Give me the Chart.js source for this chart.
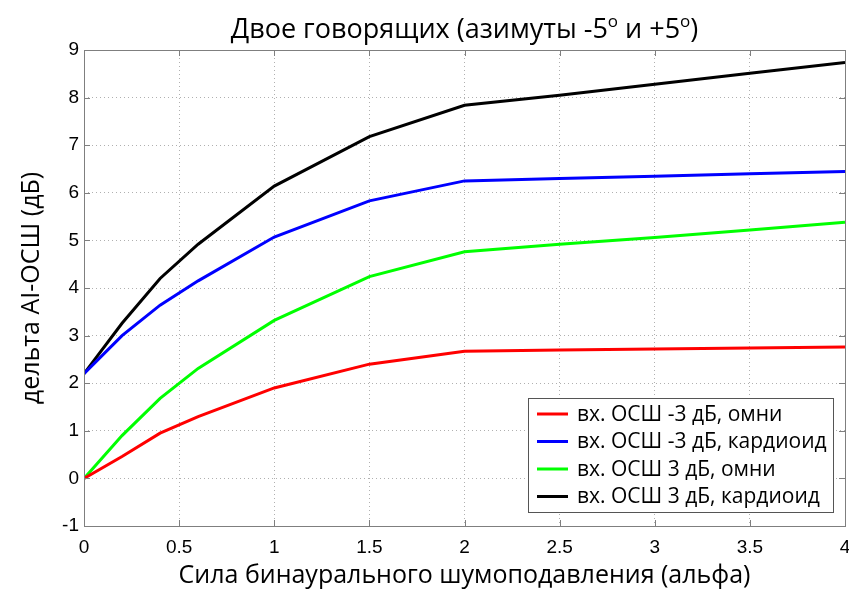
<!DOCTYPE html>
<html>
<head>
<meta charset="utf-8">
<script src="https://cdn.jsdelivr.net/npm/chart.js@4.4.1/dist/chart.umd.min.js"></script>
<style>
  html, body { margin: 0; padding: 0; background: #fff; }
  #wrap { width: 849px; height: 591px; position: relative; }
</style>
</head>
<body>
<div id="wrap"><canvas id="c"></canvas></div>
<script>
// данные с графика
const alpha = [0, 0.2, 0.4, 0.6, 1, 1.5, 2, 2.5, 3, 3.5, 4];
const redOmni   = [0, 0.46, 0.95, 1.30, 1.90, 2.40, 2.67, 2.70, 2.72, 2.74, 2.76];
const blueCard  = [2.2, 3.0, 3.64, 4.15, 5.07, 5.83, 6.25, 6.30, 6.35, 6.40, 6.45];
const greenOmni = [0, 0.90, 1.68, 2.31, 3.32, 4.24, 4.76, 4.92, 5.06, 5.22, 5.38];
const blackCard = [2.2, 3.26, 4.2, 4.92, 6.14, 7.18, 7.84, 8.05, 8.28, 8.51, 8.74];
const labels = ['вх. ОСШ -3 дБ, омни', 'вх. ОСШ -3 дБ, кардиоид', 'вх. ОСШ 3 дБ, омни', 'вх. ОСШ 3 дБ, кардиоид'];
const xTicks = [0, 0.5, 1, 1.5, 2, 2.5, 3, 3.5, 4];
// заголовок: [текст, верхний индекс?]
const titleParts = [['Двое говорящих (азимуты -5', false], ['o', true], [' и +5', false], ['o', true], [')', false]];

const COLORS = ['#ff0000', '#0000ff', '#00ff00', '#000000'];
const series = [redOmni, blueCard, greenOmni, blackCard];

const toPts = (ys) => ys.map((y, i) => ({ x: alpha[i], y }));

// заголовок с верхними индексами
const titlePlugin = {
  id: 'supTitle',
  afterDraw(chart) {
    const { ctx, chartArea: a } = chart;
    const big = '27px "Open Sans"', small = '17px "Open Sans"';
    ctx.save();
    ctx.fillStyle = '#000';
    ctx.textBaseline = 'alphabetic';
    let total = 0;
    titleParts.forEach(([t, sup]) => { ctx.font = sup ? small : big; total += ctx.measureText(t).width; });
    let x = (a.left + a.right) / 2 - total / 2;
    const base = 38;
    titleParts.forEach(([t, sup]) => {
      ctx.font = sup ? small : big;
      ctx.fillText(t, x, sup ? base - 11 : base);
      x += ctx.measureText(t).width;
    });
    ctx.restore();
  }
};

// рамка вокруг области графика + легенда внутри
const framePlugin = {
  id: 'frame',
  afterDraw(chart) {
    const { ctx, chartArea: a } = chart;
    ctx.save();
    ctx.strokeStyle = '#7f7f7f';
    ctx.lineWidth = 1;
    ctx.strokeRect(a.left + 0.5, a.top + 0.5, a.right - a.left, a.bottom - a.top);
    // короткие тики внутрь
    const xs = chart.scales.x, ys = chart.scales.y;
    ctx.beginPath();
    xTicks.forEach(v => {
      const px = Math.round(xs.getPixelForValue(v)) + 0.5;
      ctx.moveTo(px, a.bottom); ctx.lineTo(px, a.bottom - 6);
      ctx.moveTo(px, a.top); ctx.lineTo(px, a.top + 6);
    });
    for (let v = -1; v <= 9; v++) {
      const py = Math.round(ys.getPixelForValue(v)) + 0.5;
      ctx.moveTo(a.left, py); ctx.lineTo(a.left + 6, py);
      ctx.moveTo(a.right, py); ctx.lineTo(a.right - 6, py);
    }
    ctx.stroke();

    // легенда
    const lx = 528, ly = 398, lw = 305, lh = 114;
    ctx.fillStyle = '#fff';
    ctx.fillRect(lx, ly, lw, lh);
    ctx.strokeStyle = '#555';
    ctx.strokeRect(lx + 0.5, ly + 0.5, lw, lh);
    ctx.font = '21px "Open Sans"';
    ctx.textBaseline = 'middle';
    chart.data.datasets.forEach((ds, i) => {
      const y = ly + 16 + i * 27.5;
      ctx.strokeStyle = ds.borderColor;
      ctx.lineWidth = 3;
      ctx.beginPath(); ctx.moveTo(lx + 9, y); ctx.lineTo(lx + 40, y); ctx.stroke();
      ctx.fillStyle = '#000';
      ctx.fillText(ds.label, lx + 49, y + 1);
    });
    ctx.restore();
  }
};

new Chart(document.getElementById('c'), {
  type: 'line',
  data: {
    datasets: series.map((s, i) => ({
      label: labels[i], data: toPts(s),
      borderColor: COLORS[i], backgroundColor: COLORS[i],
      borderWidth: 3, pointRadius: 0, tension: 0, fill: false
    }))
  },
  options: {
    responsive: true, maintainAspectRatio: false, animation: false,
    layout: { padding: { left: 17, right: 4, top: 50, bottom: 0 } },
    plugins: {
      legend: { display: false },
      tooltip: { enabled: false },
      title: { display: false }
    },
    scales: {
      x: {
        type: 'linear', min: 0, max: 4,
        afterBuildTicks: (s) => { s.ticks = xTicks.map(v => ({ value: v })); },
        ticks: { color: '#000', font: { family: '"Liberation Sans"', size: 19 }, padding: 10, maxRotation: 0,
          callback: (v) => String(v) },
        grid: { color: '#b0b0b0', drawTicks: false },
        border: { display: false, dash: [1, 3] },
        title: { display: true, text: 'Сила бинаурального шумоподавления (альфа)', color: '#000',
          font: { family: '"Open Sans"', size: 25 }, padding: { top: 0, bottom: 0 } },
        afterFit: (s) => { s.height = 65; s.paddingRight = 0; s.paddingLeft = 0; }
      },
      y: {
        min: -1, max: 9,
        ticks: { stepSize: 1, color: '#000', font: { family: '"Liberation Sans"', size: 19 }, padding: 5 },
        grid: { color: '#b0b0b0', drawTicks: false },
        border: { display: false, dash: [1, 3] },
        title: { display: true, text: 'дельта AI-ОСШ (дБ)', color: '#000',
          font: { family: '"Open Sans"', size: 25 }, padding: { top: 0, bottom: 6 } },
        afterFit: (s) => { s.width = 67; }
      }
    }
  },
  plugins: [framePlugin, titlePlugin]
});
</script>
</body>
</html>
